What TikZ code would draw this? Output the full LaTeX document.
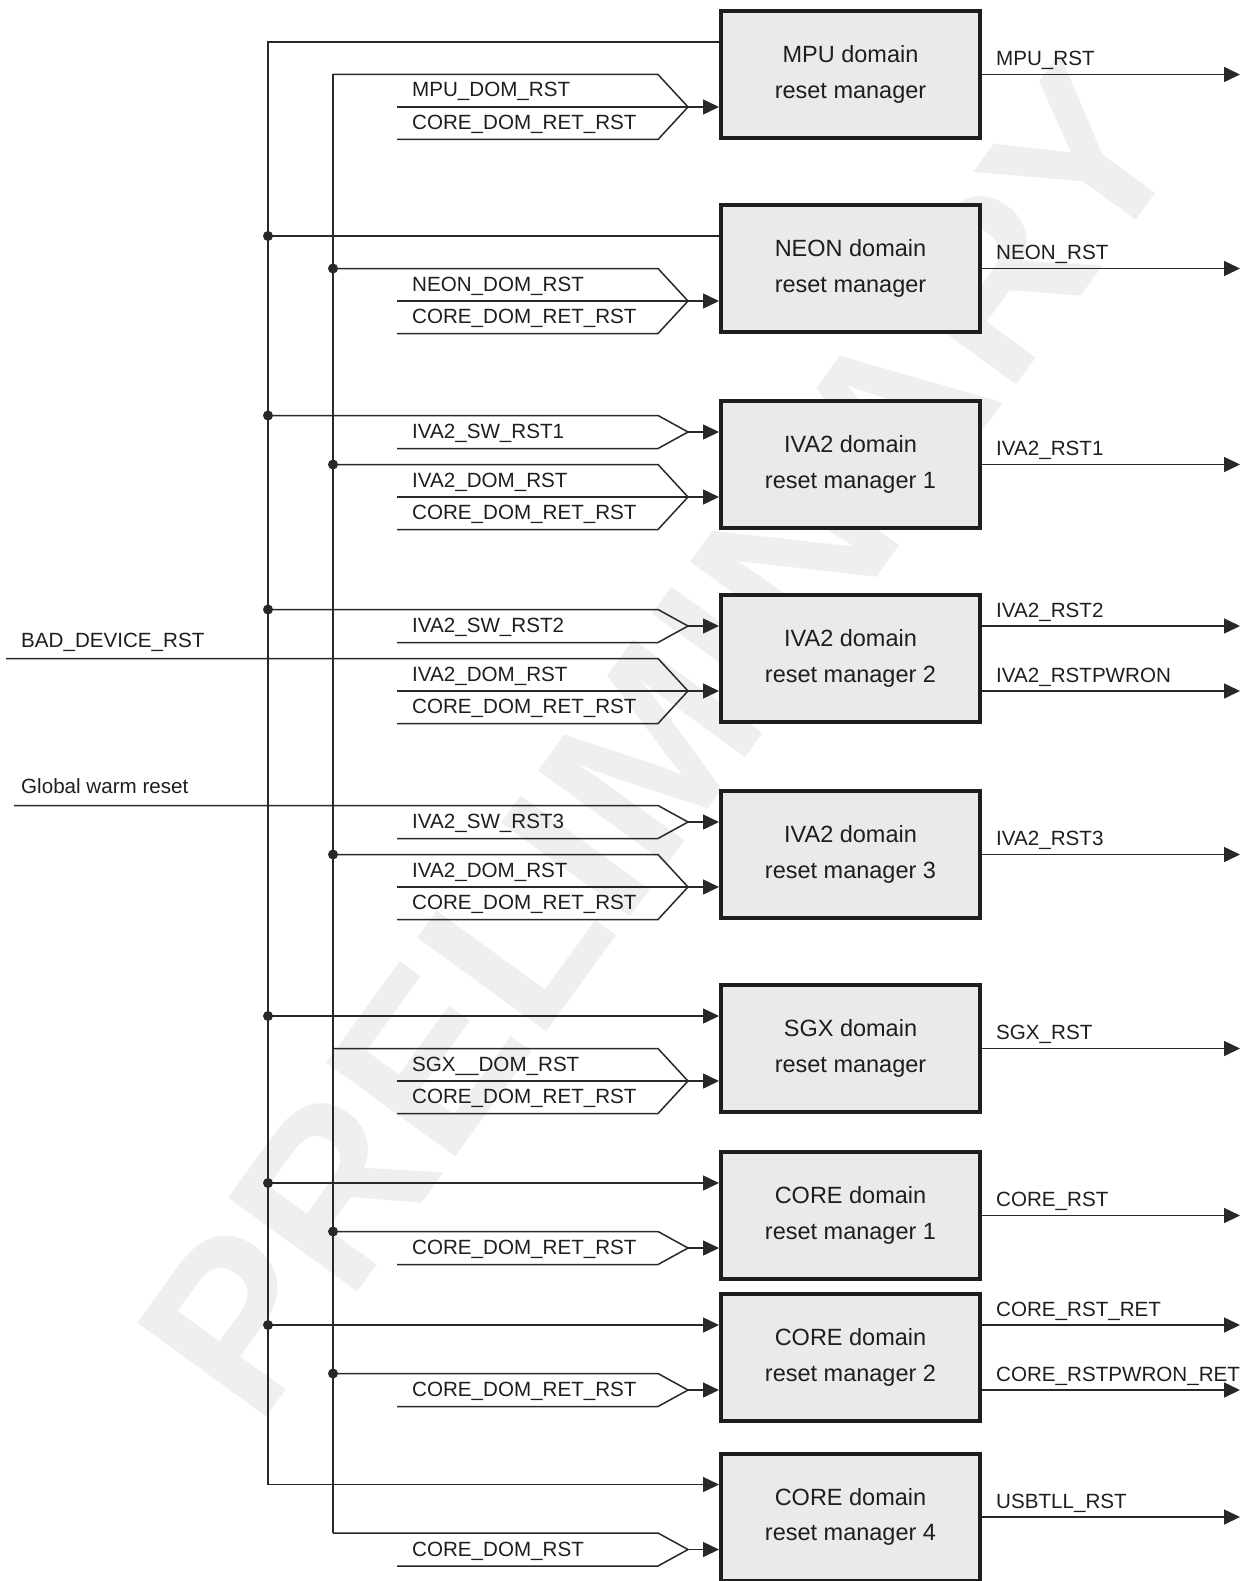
\documentclass[tikz,border=0pt]{standalone}
\usepackage{fontspec}
\setmainfont{Liberation Sans}
\usetikzlibrary{arrows.meta,calc}

\definecolor{wirecol}{RGB}{40,40,40}
\definecolor{boxline}{RGB}{30,30,30}
\definecolor{mgrfill}{RGB}{234,234,236}
\definecolor{inkcol}{RGB}{30,30,30}
\definecolor{wmark}{RGB}{239,239,239}

\begin{document}
\begin{tikzpicture}[
  x=1pt, y=-1pt,
  font=\fontsize{20.6}{24}\selectfont,
  >={Triangle[length=16pt,width=15pt]},
  wire/.style={draw=wirecol, line width=1.5pt},
  mgr/.style={draw=boxline, line width=4pt, fill=mgrfill, text=inkcol,
              minimum width=259pt, minimum height=127pt, align=center,
              font=\fontsize{23.5}{35.5}\selectfont},
  sig/.style={anchor=base west, inner sep=0pt, text=inkcol},
]
\useasboundingbox (0,0) rectangle (1252,1581);

% watermark
\node[rotate=54, inner sep=0pt, text=wmark,
      font=\fontsize{232}{232}\selectfont\bfseries] (wm) at (660,740) {PRELIMINARY};

% reset managers
\node[mgr] (mpu)   at (850.5,74.5)   {MPU domain\\reset manager};
\node[mgr] (neon)  at (850.5,268.5)  {NEON domain\\reset manager};
\node[mgr] (ivaA)  at (850.5,464.5)  {IVA2 domain\\reset manager 1};
\node[mgr] (ivaB)  at (850.5,658.5)  {IVA2 domain\\reset manager 2};
\node[mgr] (ivaC)  at (850.5,854.5)  {IVA2 domain\\reset manager 3};
\node[mgr] (sgx)   at (850.5,1048.5) {SGX domain\\reset manager};
\node[mgr] (coreA) at (850.5,1215.5) {CORE domain\\reset manager 1};
\node[mgr] (coreB) at (850.5,1357.5) {CORE domain\\reset manager 2};
\node[mgr] (coreD) at (850.5,1517)   {CORE domain\\reset manager 4};

% input ports (tips of the signal bundles)
\coordinate (mpu-u)   at ($(mpu.west)+(-31,-32.5)$);
\coordinate (mpu-d)   at ($(mpu.west)+(-31,32.5)$);
\coordinate (neon-u)  at ($(neon.west)+(-31,-32.5)$);
\coordinate (neon-d)  at ($(neon.west)+(-31,32.5)$);
\coordinate (ivaA-u)  at ($(ivaA.west)+(-31,-32.5)$);
\coordinate (ivaA-d)  at ($(ivaA.west)+(-31,32.5)$);
\coordinate (ivaB-u)  at ($(ivaB.west)+(-31,-32.5)$);
\coordinate (ivaB-d)  at ($(ivaB.west)+(-31,32.5)$);
\coordinate (ivaC-u)  at ($(ivaC.west)+(-31,-32.5)$);
\coordinate (ivaC-d)  at ($(ivaC.west)+(-31,32.5)$);
\coordinate (sgx-u)   at ($(sgx.west)+(-31,-32.5)$);
\coordinate (sgx-d)   at ($(sgx.west)+(-31,32.5)$);
\coordinate (coreA-u) at ($(coreA.west)+(-31,-32.5)$);
\coordinate (coreA-d) at ($(coreA.west)+(-31,32.5)$);
\coordinate (coreB-u) at ($(coreB.west)+(-31,-32.5)$);
\coordinate (coreB-d) at ($(coreB.west)+(-31,32.5)$);
\coordinate (coreD-u) at ($(coreD.west)+(-31,-32.5)$);
\coordinate (coreD-d) at ($(coreD.west)+(-31,32.5)$);

% buses and edges
\coordinate (ga)  at (268,0);
\coordinate (gb)  at (333,0);
\coordinate (rim) at (1240,0);
\coordinate (bad) at (6,658.5);
\coordinate (gwr) at (14,805.5);

% bus A
\draw[wire,->] (mpu.west |- mpu-u) -- (ga |- mpu-u) -- (ga |- coreD-u) -- (coreD.west |- coreD-u);
\draw[wire]    (ga |- neon-u) -- (neon.west |- neon-u);
\draw[wire,->] (ga |- sgx-u) -- (sgx.west |- sgx-u);
\draw[wire,->] (ga |- coreA-u) -- (coreA.west |- coreA-u);
\draw[wire,->] (ga |- coreB-u) -- (coreB.west |- coreB-u);
\draw[wire] ($(ga |- ivaA-u)+(0,-16.5)$) -- ($(ivaA-u)+(-30,-16.5)$) -- (ivaA-u) -- ++(-30,16.5) -- ++(-261,0);
\draw[wire] ($(ga |- ivaB-u)+(0,-16.5)$) -- ($(ivaB-u)+(-30,-16.5)$) -- (ivaB-u) -- ++(-30,16.5) -- ++(-261,0);

% bus B
\draw[wire] (gb |- mpu.center) -- ($(gb |- coreD-d)+(0,-16.5)$);
\draw[wire] (gb |- mpu.center) -- ($(mpu-d)+(-30,-32.5)$) -- (mpu-d) -- ++(-30,32.5) -- ++(-261,0);
\draw[wire] (gb |- neon.center) -- ($(neon-d)+(-30,-32.5)$) -- (neon-d) -- ++(-30,32.5) -- ++(-261,0);
\draw[wire] (gb |- ivaA.center) -- ($(ivaA-d)+(-30,-32.5)$) -- (ivaA-d) -- ++(-30,32.5) -- ++(-261,0);
\draw[wire] (bad) -- ($(ivaB-d)+(-30,-32.5)$) -- (ivaB-d) -- ++(-30,32.5) -- ++(-261,0);
\draw[wire] (gwr) -- ($(ivaC-u)+(-30,-16.5)$) -- (ivaC-u) -- ++(-30,16.5) -- ++(-261,0);
\draw[wire] (gb |- ivaC.center) -- ($(ivaC-d)+(-30,-32.5)$) -- (ivaC-d) -- ++(-30,32.5) -- ++(-261,0);
\draw[wire] (gb |- sgx.center) -- ($(sgx-d)+(-30,-32.5)$) -- (sgx-d) -- ++(-30,32.5) -- ++(-261,0);
\draw[wire] ($(gb |- coreA-d)+(0,-16.5)$) -- ($(coreA-d)+(-30,-16.5)$) -- (coreA-d) -- ++(-30,16.5) -- ++(-261,0);
\draw[wire] ($(gb |- coreB-d)+(0,-16.5)$) -- ($(coreB-d)+(-30,-16.5)$) -- (coreB-d) -- ++(-30,16.5) -- ++(-261,0);
\draw[wire] ($(gb |- coreD-d)+(0,-16.5)$) -- ($(coreD-d)+(-30,-16.5)$) -- (coreD-d) -- ++(-30,16.5) -- ++(-261,0);

% bundle middles and arrows into the managers
\draw[wire,->] ($(mpu-d)+(-291,0)$) -- (mpu.west |- mpu-d);
\draw[wire,->] ($(neon-d)+(-291,0)$) -- (neon.west |- neon-d);
\draw[wire,->] (ivaA-u) -- (ivaA.west |- ivaA-u);
\draw[wire,->] ($(ivaA-d)+(-291,0)$) -- (ivaA.west |- ivaA-d);
\draw[wire,->] (ivaB-u) -- (ivaB.west |- ivaB-u);
\draw[wire,->] ($(ivaB-d)+(-291,0)$) -- (ivaB.west |- ivaB-d);
\draw[wire,->] (ivaC-u) -- (ivaC.west |- ivaC-u);
\draw[wire,->] ($(ivaC-d)+(-291,0)$) -- (ivaC.west |- ivaC-d);
\draw[wire,->] ($(sgx-d)+(-291,0)$) -- (sgx.west |- sgx-d);
\draw[wire,->] (coreA-d) -- (coreA.west |- coreA-d);
\draw[wire,->] (coreB-d) -- (coreB.west |- coreB-d);
\draw[wire,->] (coreD-d) -- (coreD.west |- coreD-d);

% junction dots
\fill[wirecol] (ga |- neon-u) circle[radius=5pt];
\fill[wirecol] ($(ga |- ivaA-u)+(0,-16.5)$) circle[radius=5pt];
\fill[wirecol] ($(ga |- ivaB-u)+(0,-16.5)$) circle[radius=5pt];
\fill[wirecol] (ga |- sgx-u) circle[radius=5pt];
\fill[wirecol] (ga |- coreA-u) circle[radius=5pt];
\fill[wirecol] (ga |- coreB-u) circle[radius=5pt];
\fill[wirecol] (gb |- neon.center) circle[radius=5pt];
\fill[wirecol] (gb |- ivaA.center) circle[radius=5pt];
\fill[wirecol] (gb |- ivaC.center) circle[radius=5pt];
\fill[wirecol] ($(gb |- coreA-d)+(0,-16.5)$) circle[radius=5pt];
\fill[wirecol] ($(gb |- coreB-d)+(0,-16.5)$) circle[radius=5pt];

% outputs
\draw[wire,->] (mpu.east) -- (rim |- mpu.center);
\draw[wire,->] (neon.east) -- (rim |- neon.center);
\draw[wire,->] (ivaA.east) -- (rim |- ivaA.center);
\draw[wire,->] (ivaB.east |- ivaB-u) -- (rim |- ivaB-u);
\draw[wire,->] (ivaB.east |- ivaB-d) -- (rim |- ivaB-d);
\draw[wire,->] (ivaC.east) -- (rim |- ivaC.center);
\draw[wire,->] (sgx.east) -- (rim |- sgx.center);
\draw[wire,->] (coreA.east) -- (rim |- coreA.center);
\draw[wire,->] (coreB.east |- coreB-u) -- (rim |- coreB-u);
\draw[wire,->] (coreB.east |- coreB-d) -- (rim |- coreB-d);
\draw[wire,->] (coreD.east) -- (rim |- coreD.center);

\node[sig] (o-mpu)   at ($(mpu.east)+(14,-9)$)   {MPU\_RST};
\node[sig] (o-neon)  at ($(neon.east)+(14,-9)$)  {NEON\_RST};
\node[sig] (o-ivaA)  at ($(ivaA.east)+(14,-9)$)  {IVA2\_RST1};
\node[sig] (o-ivaB1) at ($(ivaB.east |- ivaB-u)+(14,-9)$) {IVA2\_RST2};
\node[sig] (o-ivaB2) at ($(ivaB.east |- ivaB-d)+(14,-9)$) {IVA2\_RSTPWRON};
\node[sig] (o-ivaC)  at ($(ivaC.east)+(14,-9)$)  {IVA2\_RST3};
\node[sig] (o-sgx)   at ($(sgx.east)+(14,-9)$)   {SGX\_RST};
\node[sig] (o-coreA) at ($(coreA.east)+(14,-9)$) {CORE\_RST};
\node[sig] (o-coreB1) at ($(coreB.east |- coreB-u)+(14,-9)$) {CORE\_RST\_RET};
\node[sig] (o-coreB2) at ($(coreB.east |- coreB-d)+(14,-9)$) {CORE\_RSTPWRON\_RET};
\node[sig] (o-coreD) at ($(coreD.east)+(14,-9)$) {USBTLL\_RST};

% input labels
\node[sig] (i-bad) at (21,647.5) {BAD\_DEVICE\_RST};
\node[sig] (i-gwr) at (21,793)   {Global warm reset};

\node[sig] (l-mpu1)  at ($(mpu-d)+(-276,-10)$)  {MPU\_DOM\_RST};
\node[sig] (l-mpu2)  at ($(mpu-d)+(-276,22.5)$) {CORE\_DOM\_RET\_RST};
\node[sig] (l-neon1) at ($(neon-d)+(-276,-10)$)  {NEON\_DOM\_RST};
\node[sig] (l-neon2) at ($(neon-d)+(-276,22.5)$) {CORE\_DOM\_RET\_RST};
\node[sig] (l-ivaA0) at ($(ivaA-u)+(-276,6.5)$)  {IVA2\_SW\_RST1};
\node[sig] (l-ivaA1) at ($(ivaA-d)+(-276,-10)$)  {IVA2\_DOM\_RST};
\node[sig] (l-ivaA2) at ($(ivaA-d)+(-276,22.5)$) {CORE\_DOM\_RET\_RST};
\node[sig] (l-ivaB0) at ($(ivaB-u)+(-276,6.5)$)  {IVA2\_SW\_RST2};
\node[sig] (l-ivaB1) at ($(ivaB-d)+(-276,-10)$)  {IVA2\_DOM\_RST};
\node[sig] (l-ivaB2) at ($(ivaB-d)+(-276,22.5)$) {CORE\_DOM\_RET\_RST};
\node[sig] (l-ivaC0) at ($(ivaC-u)+(-276,6.5)$)  {IVA2\_SW\_RST3};
\node[sig] (l-ivaC1) at ($(ivaC-d)+(-276,-10)$)  {IVA2\_DOM\_RST};
\node[sig] (l-ivaC2) at ($(ivaC-d)+(-276,22.5)$) {CORE\_DOM\_RET\_RST};
\node[sig] (l-sgx1)  at ($(sgx-d)+(-276,-10)$)   {SGX\_\_DOM\_RST};
\node[sig] (l-sgx2)  at ($(sgx-d)+(-276,22.5)$)  {CORE\_DOM\_RET\_RST};
\node[sig] (l-coreA) at ($(coreA-d)+(-276,6.5)$) {CORE\_DOM\_RET\_RST};
\node[sig] (l-coreB) at ($(coreB-d)+(-276,6.5)$) {CORE\_DOM\_RET\_RST};
\node[sig] (l-coreD) at ($(coreD-d)+(-276,6.5)$) {CORE\_DOM\_RST};
\end{tikzpicture}
\end{document}
